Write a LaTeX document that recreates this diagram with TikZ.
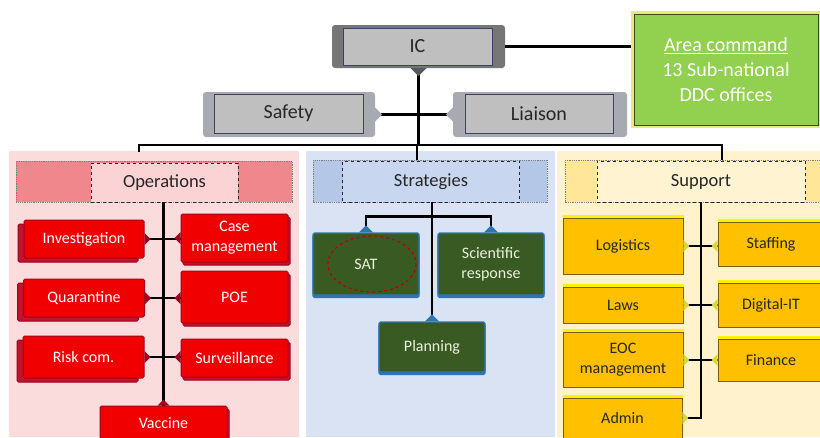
\documentclass[tikz,border=0pt]{standalone}
\usepackage{fontspec}
\setmainfont{Carlito}
\usetikzlibrary{shadows}
\definecolor{icdark}{HTML}{767676}
\definecolor{lgray}{HTML}{BFBFBF}
\definecolor{sgray}{HTML}{A7AAB0}
\definecolor{nvline}{HTML}{3E4260}
\definecolor{agreen}{HTML}{92D050}
\definecolor{aedge}{HTML}{3B4A1E}
\definecolor{ayellow}{HTML}{E9E97A}
\definecolor{opsbg}{HTML}{FADCDC}
\definecolor{opsband}{HTML}{EF878C}
\definecolor{opsin}{HTML}{FCD3D4}
\definecolor{rfill}{HTML}{F00000}
\definecolor{rline}{HTML}{A3001E}
\definecolor{rshad}{HTML}{C0142E}
\definecolor{strbg}{HTML}{DAE3F3}
\definecolor{strband}{HTML}{B4C7E7}
\definecolor{strin}{HTML}{C8D7EF}
\definecolor{gfill}{HTML}{3A5A23}
\definecolor{gline}{HTML}{2E75B6}
\definecolor{gtext}{HTML}{EAF2DC}
\definecolor{supbg}{HTML}{FFF2CC}
\definecolor{supband}{HTML}{FFE699}
\definecolor{supin}{HTML}{FFF3D2}
\definecolor{yfill}{HTML}{FFC000}
\definecolor{yline}{HTML}{7A5F10}
\definecolor{yglow}{HTML}{FFF200}
\definecolor{ytri}{HTML}{D8D83A}
\definecolor{txt}{HTML}{262626}
\definecolor{ellred}{HTML}{C00000}

\newcommand\trR[3]{\fill[#3] (#1) ++(0,-#2) -- ++(#2,#2) -- ++(-#2,#2) -- cycle;}
\newcommand\trL[3]{\fill[#3] (#1) ++(0,-#2) -- ++(-#2,#2) -- ++(#2,#2) -- cycle;}
\newcommand\trU[3]{\fill[#3] (#1) ++(-#2,0) -- ++(#2,-#2) -- ++(#2,#2) -- cycle;}
\newcommand\trD[3]{\fill[#3] (#1) ++(-#2,0) -- ++(#2,#2) -- ++(#2,-#2) -- cycle;}

\tikzset{
  conn/.style={line width=2.6pt, black},
  base/.style={inner sep=0pt, align=center},
  topbox/.style={base, draw=nvline, line width=0.6pt, fill=lgray, text=txt, font=\fontsize{20}{24}\selectfont},
  backbox/.style={base, rounded corners=3pt},
  hdr/.style={base, draw=txt, dashed, line width=0.8pt, text=txt, font=\fontsize{18.5}{22}\selectfont},
  redbox/.style={base, draw=rline, line width=1pt, fill=rfill, text=white, font=\fontsize{16}{20}\selectfont, rounded corners=1.5pt},
  redL/.style={redbox, copy shadow={shadow xshift=-6pt, shadow yshift=-4pt, fill=rshad, draw=rline}},
  redR/.style={redbox, copy shadow={shadow xshift=2pt, shadow yshift=-3pt, fill=rshad, draw=rline}},
  greenbox/.style={base, draw=gline, line width=1.3pt, fill=gfill, text=gtext, font=\fontsize{16}{20}\selectfont, rounded corners=1.5pt, copy shadow={shadow xshift=0pt, shadow yshift=-2.5pt, fill=gline, draw=gline}},
  ybox/.style={base, draw=yline, line width=0.9pt, fill=yfill, text=txt, font=\fontsize{16}{20}\selectfont, copy shadow={shadow xshift=0pt, shadow yshift=3pt, fill=yglow, draw=yglow}},
}

\begin{document}
\begin{tikzpicture}[x=1pt,y=-1pt]
\useasboundingbox (0,0) rectangle (820,437);
\fill[white] (0,0) rectangle (820,437);

% panels
\fill[opsbg] (9,151) rectangle (299,437);
\fill[strbg] (306,151) rectangle (555,437);
\fill[supbg] (557,151) rectangle (820,437);

% header bands
\draw[densely dotted, gray, line width=0.8pt, fill=opsband] (16,161) rectangle (292,202);
\draw[densely dotted, gray, line width=0.8pt, fill=strband] (313,160) rectangle (547,202);
\draw[densely dotted, gray, line width=0.8pt, fill=supband] (565,160) rectangle (824,202);

% top level
\node[backbox, fill=icdark, minimum width=173pt, minimum height=43pt] (icback) at (418.5,46.5) {};
\node[topbox, minimum width=149pt, minimum height=37pt] (ic) at (417.5,46.5) {IC};
\node[backbox, fill=sgray, minimum width=172pt, minimum height=45pt] (safback) at (289,114.5) {};
\node[topbox, minimum width=149pt, minimum height=39pt] (saf) at (288.5,113.5) {Safety};
\node[backbox, fill=sgray, minimum width=174pt, minimum height=45pt] (liaback) at (540,114.5) {};
\node[topbox, minimum width=148pt, minimum height=39pt] (lia) at (539,113.5) {Liaison};

\node[base, fill=ayellow, minimum width=190pt, minimum height=117pt] (areaback) at (726,69.5) {};
\node[base, draw=aedge, line width=0.9pt, fill=agreen, text=white, minimum width=184pt, minimum height=111pt,
      font=\fontsize{20}{25}\selectfont] (area) at (726,69.5) {\underline{Area command}\\13 Sub-national\\DDC offices};

% headers
\node[hdr, fill=opsin, minimum width=147pt, minimum height=39pt] (opsh) at (164.5,182.5) {Operations};
\node[hdr, fill=strin, minimum width=177pt, minimum height=41pt] (strh) at (431,181.5) {Strategies};
\node[hdr, fill=supin, minimum width=208pt, minimum height=41pt] (suph) at (701,181.5) {Support};

% operations
\node[redL, minimum width=120pt, minimum height=38pt] (inv) at (84,239) {Investigation};
\node[redR, minimum width=107pt, minimum height=48pt] (cm) at (234.5,238) {Case\\management};
\node[redL, minimum width=121pt, minimum height=38pt] (qua) at (84,298) {Quarantine};
\node[redR, minimum width=107pt, minimum height=52pt] (poe) at (234.5,297) {POE};
\node[redL, minimum width=121pt, minimum height=42pt] (risk) at (83.5,357) {Risk com.};
\node[redR, minimum width=107pt, minimum height=38pt] (surv) at (234.5,358) {Surveillance};
\node[redR, minimum width=127pt, minimum height=34pt] (vac) at (163.5,423) {Vaccine};

% strategies
\node[greenbox, minimum width=106pt, minimum height=62pt] (sat) at (366,264) {SAT};
\draw[ellred, dashed, line width=1.2pt] ([xshift=6pt]sat.center) ellipse (44 and 28);
\node[greenbox, minimum width=106pt, minimum height=62pt] (sci) at (491,264) {Scientific\\response};
\node[greenbox, minimum width=106pt, minimum height=50pt] (plan) at (432,347) {Planning};

% support
\node[ybox, minimum width=120pt, minimum height=56pt] (log) at (623,246) {Logistics};
\node[ybox, minimum width=106pt, minimum height=44pt] (stf) at (771,244) {Staffing};
\node[ybox, minimum width=120pt, minimum height=36pt] (laws) at (623,305) {Laws};
\node[ybox, minimum width=106pt, minimum height=44pt] (dig) at (771,305) {Digital-IT};
\node[ybox, minimum width=120pt, minimum height=55pt] (eoc) at (623,360) {EOC\\management};
\node[ybox, minimum width=106pt, minimum height=42pt] (fin) at (771,360) {Finance};
\node[ybox, minimum width=119pt, minimum height=40pt] (adm) at (622.5,418) {Admin};

% connectors top
\coordinate (busL) at (139,145);
\coordinate (busR) at (722,145);
\coordinate (opsdrop) at (139,152);
\coordinate (strdrop) at (417,160);
\coordinate (supdrop) at (722,160);
\draw[conn] (icback.east) -- (icback.east -| areaback.west);
\draw[conn] (icback.south) -- (icback.south |- busL);
\draw[conn] (safback.east) -- (liaback.west);
\draw[conn] (opsdrop) -- (busL) -- (busR) -- (supdrop);
\draw[conn] (strdrop |- busL) -- (strdrop);
\trD{icback.south}{8}{black!65}
\trR{safback.east}{7}{sgray}
\trL{liaback.west}{7}{sgray}

% operations connectors
\draw[conn] (opsh.south -| vac.north) -- (vac.north);
\draw[conn] (inv.east) -- (inv.east -| cm.west);
\draw[conn] (qua.east) -- (qua.east -| poe.west);
\draw[conn] (risk.east) -- (risk.east -| surv.west);
\trR{inv.east}{6}{rline}
\trL{cm.west}{6}{rline}
\trR{qua.east}{6}{rline}
\trL{qua.east -| poe.west}{6}{rline}
\trR{risk.east}{6}{rline}
\trL{risk.east -| surv.west}{6}{rline}
\trU{vac.north}{6}{rline}

% strategies connectors
\draw[conn] (strh.south -| plan.north) -- (plan.north);
\draw[conn] (sat.north) -- ++(0,-16) -| (sci.north);
\trU{sat.north}{7}{gline}
\trU{sci.north}{7}{gline}
\trU{plan.north}{7}{gline}

% support connectors
\draw[conn] (suph.south) -- (suph.south |- adm.east) -- (adm.east);
\draw[conn] (log.east) -- (log.east -| stf.west);
\draw[conn] (laws.east) -- (laws.east -| dig.west);
\draw[conn] (eoc.east) -- (eoc.east -| fin.west);
\trR{log.east}{6}{ytri}
\trL{log.east -| stf.west}{6}{ytri}
\trR{laws.east}{6}{ytri}
\trL{dig.west}{6}{ytri}
\trR{eoc.east}{6}{ytri}
\trL{fin.west}{6}{ytri}
\trR{adm.east}{6}{ytri}
\end{tikzpicture}
\end{document}
